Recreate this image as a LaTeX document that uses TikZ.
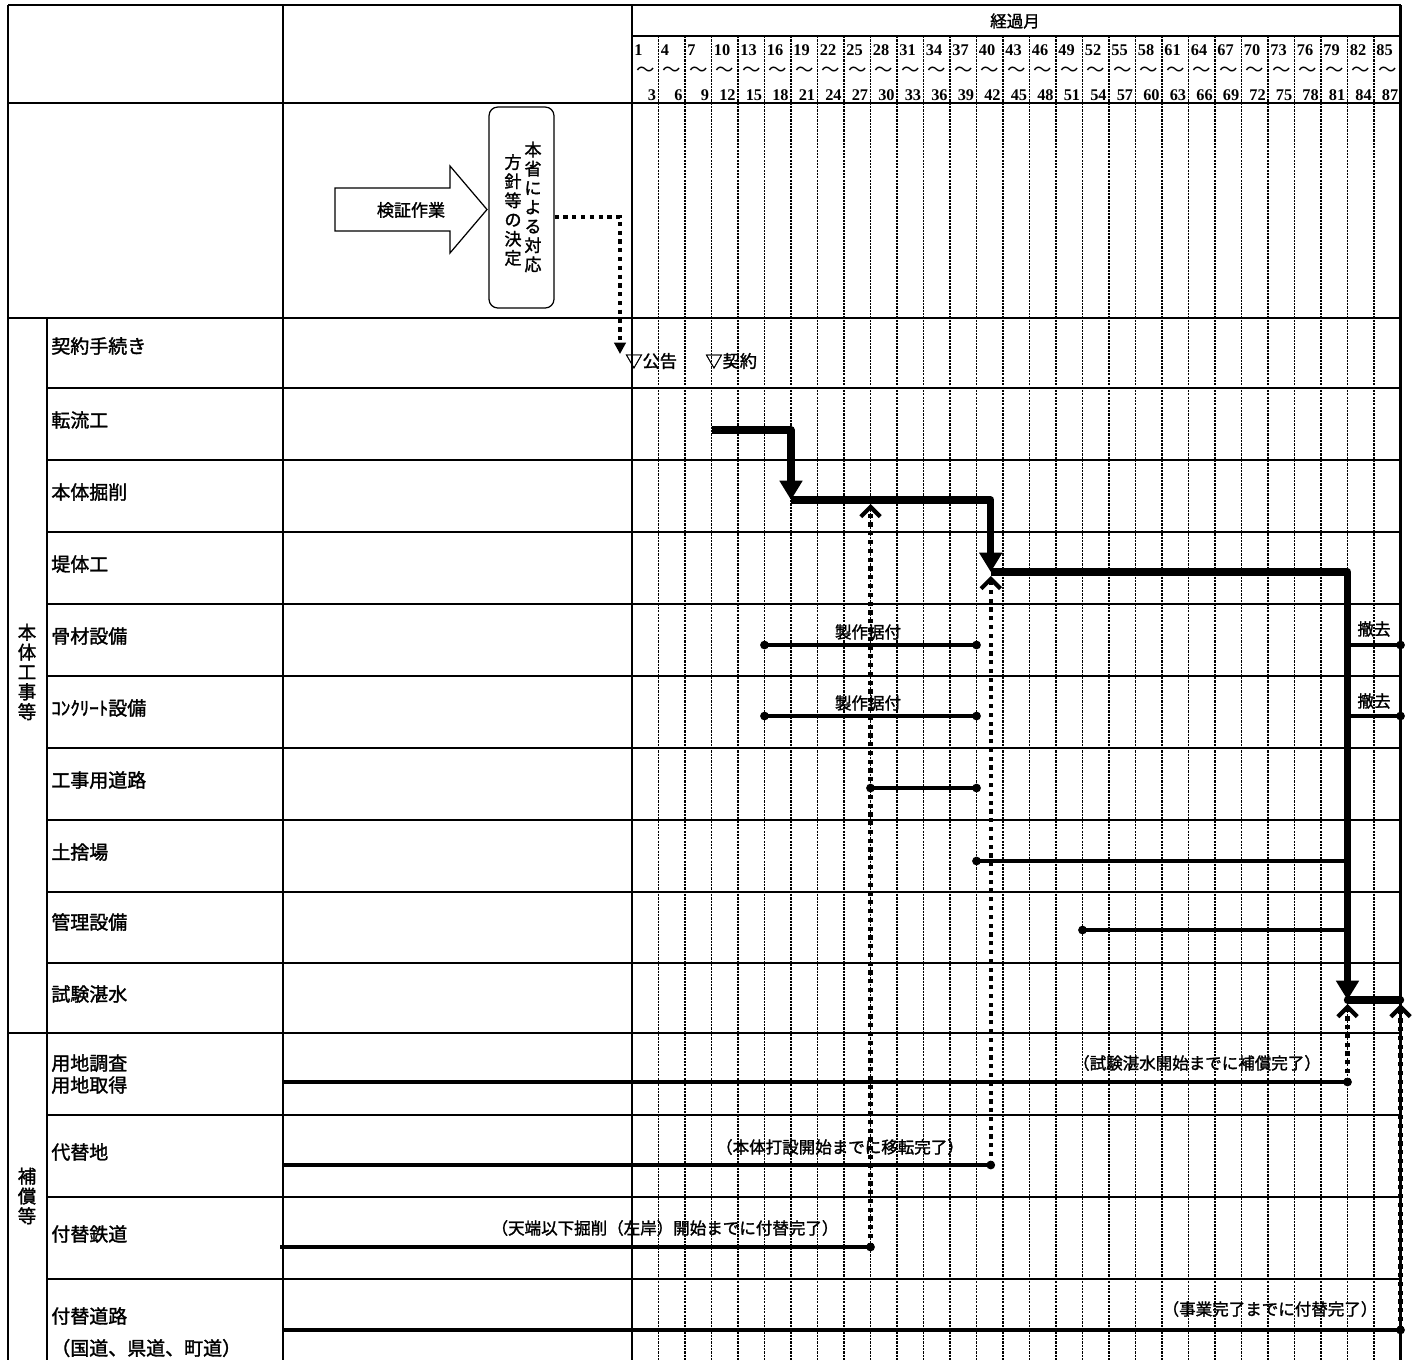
\documentclass[tikz,border=0pt]{standalone}
\usepackage{fontspec}
\setmainfont{Liberation Serif}
\newfontfamily\jp{Noto Sans CJK JP}[BoldFont={Noto Sans CJK JP}, BoldFeatures={FakeBold=1.6}]
\usetikzlibrary{positioning,arrows.meta}

\begin{document}
\begin{tikzpicture}[x=0.02cm, y=-0.02cm,
    tabline/.style={line width=1.6pt},
    gridline/.style={line width=1.1pt, dash pattern=on 1.3pt off 0.6pt},
    critical/.style={line width=4.2pt, line join=round, -{Triangle[length=11pt,width=12.5pt]}},
    schedbar/.style={line width=1.9pt},
    deplink/.style={line width=2.4pt, dash pattern=on 2.4pt off 2.6pt},
    itemtext/.style={font=\jp\bfseries\fontsize{10.8}{12.5}\selectfont, anchor=west, inner sep=0pt, align=left},
    grouptext/.style={font=\jp\bfseries\fontsize{10.5}{11.3}\selectfont, inner sep=0pt, align=center},
    anno/.style={font=\jp\bfseries\fontsize{9.4}{11}\selectfont, inner sep=0pt},
    numtext/.style={font=\bfseries\fontsize{9.3}{10}\selectfont, inner sep=0pt}
]
    \useasboundingbox (0,0) rectangle (1415,1360);

    % table frame
    \draw[tabline] (8,5) -- (1400.5,5);
    \draw[tabline] (632,36) -- (1400.5,36);
    \draw[tabline] (8,103) -- (1400.5,103);
    \draw[tabline] (8,318) -- (1400.5,318);
    \foreach \y in {388,460,532,604,676,748,820,892,963}
        \draw[tabline] (47,\y) -- (1400.5,\y);
    \draw[tabline] (8,1033) -- (1400.5,1033);
    \foreach \y in {1115,1197,1279}
        \draw[tabline] (47,\y) -- (1400.5,\y);
    \draw[tabline] (8,5) -- (8,1360);
    \draw[tabline] (47,318) -- (47,1360);
    \draw[tabline] (283,5) -- (283,1360);
    \draw[tabline] (632,5) -- (632,1360);
    \draw[tabline] (1400.5,5) -- (1400.5,1360);
    \foreach \k in {1,...,28}
        \draw[gridline] ({632+26.5*\k},36) -- ({632+26.5*\k},1360);

    % months header
    \node[anno] (keika) at (1015,21) {経過月};
    \foreach \k in {0,...,28} {
        \pgfmathtruncatemacro\mfrom{3*\k+1}
        \pgfmathtruncatemacro\mto{3*\k+3}
        \node[numtext, anchor=west] (mfrom\k) at ({632+26.5*\k+2},50) {\mfrom};
        \node[anno, font=\jp\fontsize{10.5}{11}\selectfont] (mtil\k) at ({632+26.5*\k+13.25},72) {～};
        \node[numtext, anchor=east] (mto\k) at ({632+26.5*(\k+1)-2},95) {\mto};
    }

    % row labels
    \node[grouptext] (grp-honntai) at (27,672) {本\\体\\工\\事\\等};
    \node[grouptext] (grp-hosho) at (27,1196) {補\\償\\等};
    \node[itemtext] (r-keiyaku) at (51,346) {契約手続き};
    \node[itemtext] (r-tenryu) at (51,420) {転流工};
    \node[itemtext] (r-kussaku) at (51,492) {本体掘削};
    \node[itemtext] (r-teitai) at (51,564) {堤体工};
    \node[itemtext] (r-kotsuzai) at (51,636) {骨材設備};
    \node[itemtext] (r-concrete) at (51,708) {ｺﾝｸﾘｰﾄ設備};
    \node[itemtext] (r-doro) at (51,780) {工事用道路};
    \node[itemtext] (r-dosute) at (51,852) {土捨場};
    \node[itemtext] (r-kanri) at (51,922) {管理設備};
    \node[itemtext] (r-tansui) at (51,994) {試験湛水};
    \node[itemtext] (r-yochi) at (51,1074) {用地調査\\用地取得};
    \node[itemtext] (r-daitai) at (51,1152) {代替地};
    \node[itemtext] (r-tetsudo) at (51,1234) {付替鉄道};
    \node[itemtext] (r-tsukedoro) at (51,1316) {付替道路};
    \node[itemtext] (r-kokudo) at (51,1348) {（国道、県道、町道）};

    % decision block
    \draw[line width=0.7pt] (335,188) -- (450,188) -- (450,166) -- (487,209.5)
        -- (450,253) -- (450,231) -- (335,231) -- cycle;
    \node[anno, font=\jp\bfseries\fontsize{9.7}{11}\selectfont] (kensho) at (411,210) {検証作業};
    \node[draw, line width=0.7pt, rounded corners=5pt, minimum width=1.3cm,
        minimum height=4.02cm] (honsho) at (521.5,207.5) {};
    \node[anno, align=center, font=\jp\bfseries\fontsize{9.7}{10.9}\selectfont] (honsho-r) at (533,207) {本\\省\\に\\よ\\る\\対\\応};
    \node[anno, align=center, font=\jp\bfseries\fontsize{9.7}{10.9}\selectfont] (honsho-l) at (513,210) {方\\針\\等\\の\\決\\定};
    \coordinate (koukoku-in) at (620,354);
    \draw[deplink, -{Triangle[length=6.5pt,width=6.5pt]}] ([yshift=-0.19cm]honsho.east) -| (koukoku-in);

    % contract
    \node[anno, anchor=west, font=\jp\bfseries\fontsize{9.8}{11}\selectfont] (koukoku) at (625,361) {▽公告};
    \node[anno, anchor=west, font=\jp\bfseries\fontsize{9.8}{11}\selectfont] (keiyaku) at (705,361) {▽契約};

    % critical path
    \coordinate (c1) at ({632+26.5*3},430);
    \coordinate (c2) at ({632+26.5*6},430);
    \coordinate (c3) at ({632+26.5*6},500);
    \coordinate (c4) at (990.75,500);
    \coordinate (c5) at (990.75,572);
    \coordinate (c6) at ({632+26.5*27},572);
    \coordinate (c7) at ({632+26.5*27},1000);
    \coordinate (c8) at (1400.5,1000);
    \draw[critical] (c1) -- (c2) -- (c3);
    \draw[critical] (c3) -- (c4) -- (c5);
    \draw[critical] (c5) -- (c6) -- (c7);
    \draw[critical, -, line cap=round] (c7) -- (c8);

    % plant and site works
    \coordinate (kotsu-s) at ({632+26.5*5},645);
    \coordinate (kotsu-e) at ({632+26.5*13},645);
    \coordinate (con-s) at ({632+26.5*5},716);
    \coordinate (con-e) at ({632+26.5*13},716);
    \coordinate (doro-s) at ({632+26.5*9},788);
    \coordinate (doro-e) at ({632+26.5*13},788);
    \coordinate (dosute-s) at ({632+26.5*13},861);
    \coordinate (dosute-e) at (c7 |- 0,861);
    \coordinate (kanri-s) at ({632+26.5*17},930);
    \coordinate (kanri-e) at (c7 |- 0,930);
    \coordinate (tekkyo1-s) at (c7 |- 0,645);
    \coordinate (tekkyo1-e) at (1400.5,645);
    \coordinate (tekkyo2-s) at (c7 |- 0,716);
    \coordinate (tekkyo2-e) at (1400.5,716);
    \draw[schedbar] (kotsu-s) -- (kotsu-e);
    \draw[schedbar] (con-s) -- (con-e);
    \draw[schedbar] (doro-s) -- (doro-e);
    \draw[schedbar] (dosute-s) -- (dosute-e);
    \draw[schedbar] (kanri-s) -- (kanri-e);
    \draw[schedbar] (tekkyo1-s) -- (tekkyo1-e);
    \draw[schedbar] (tekkyo2-s) -- (tekkyo2-e);
    \foreach \p in {kotsu-s,kotsu-e,con-s,con-e,doro-s,doro-e,dosute-s,kanri-s,tekkyo1-e,tekkyo2-e}
        \fill (\p) circle[radius=2.5pt];
    \node[anno] (seisaku1) at (868,632) {製作据付};
    \node[anno] (seisaku2) at (868,703) {製作据付};
    \node[anno] (tekkyo1) at (1374,629) {撤去};
    \node[anno] (tekkyo2) at (1374,701) {撤去};

    % compensation
    \coordinate (yochi-s) at (283,1082);
    \coordinate (yochi-e) at (c7 |- 0,1082);
    \coordinate (daitai-s) at (283,1165);
    \coordinate (daitai-e) at (990.75,1165);
    \coordinate (tetsu-s) at (280,1247);
    \coordinate (tetsu-e) at ({632+26.5*9},1247);
    \coordinate (tsuke-s) at (283,1330);
    \coordinate (tsuke-e) at (1400.5,1330);
    \draw[schedbar] (yochi-s) -- (yochi-e);
    \draw[schedbar] (daitai-s) -- (daitai-e);
    \draw[schedbar] (tetsu-s) -- (tetsu-e);
    \draw[schedbar] (tsuke-s) -- (tsuke-e);
    \foreach \p in {yochi-e,daitai-e,tetsu-e,tsuke-e}
        \fill (\p) circle[radius=2.5pt];
    \draw[deplink, -{Straight Barb[length=5.5pt,width=11pt]}] (tetsu-e) -- (tetsu-e |- 0,504);
    \draw[deplink, -{Straight Barb[length=5.5pt,width=11pt]}] (daitai-e) -- (daitai-e |- 0,576);
    \draw[deplink, -{Straight Barb[length=5.5pt,width=11pt]}] (yochi-e) -- (yochi-e |- 0,1004);
    \draw[deplink, -{Straight Barb[length=5.5pt,width=11pt]}] (tsuke-e) -- (tsuke-e |- 0,1004);
    \node[anno] (note-yochi) at (1197,1063) {（試験湛水開始までに補償完了）};
    \node[anno] (note-daitai) at (840,1147) {（本体打設開始までに移転完了）};
    \node[anno] (note-tetsu) at (665,1228) {（天端以下掘削（左岸）開始までに付替完了）};
    \node[anno] (note-tsuke) at (1270,1309) {（事業完了までに付替完了）};
\end{tikzpicture}
\end{document}
